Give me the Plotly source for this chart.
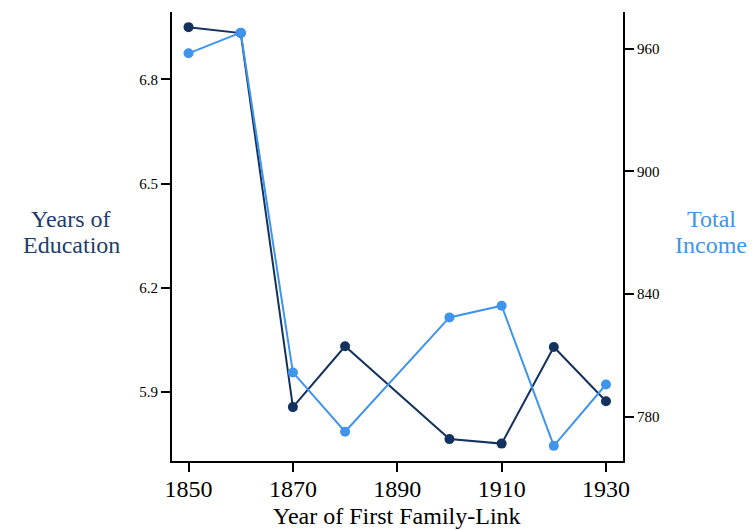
import plotly.graph_objects as go

years = [1850, 1860, 1870, 1880, 1900, 1910, 1920, 1930]
education = [6.950, 6.933, 5.857, 6.032, 5.765, 5.752, 6.030, 5.874]
income = [957.7, 967.8, 801.7, 772.7, 828.6, 834.3, 765.8, 795.8]
x_ticks = [1850, 1870, 1890, 1910, 1930]
edu_ticks = [5.9, 6.2, 6.5, 6.8]
inc_ticks = [780, 840, 900, 960]

dark = "#14325e"
light = "#3f94ec"
font_family = "Liberation Serif"

# page body adds an 8px margin, so the figure is drawn 8px smaller
W, H = 747, 522
L, R, T, B = 164, 132, 4, 69

fig = go.Figure()
fig.add_trace(go.Scatter(x=years, y=education, mode="lines+markers",
                         line=dict(color=dark, width=2),
                         marker=dict(color=dark, size=10),
                         yaxis="y"))
fig.add_trace(go.Scatter(x=years, y=income, mode="lines+markers",
                         line=dict(color=light, width=2),
                         marker=dict(color=light, size=10),
                         yaxis="y2"))

axis_common = dict(showline=True, linecolor="black", linewidth=2,
                   ticks="outside", ticklen=9, tickwidth=2, tickcolor="black",
                   showgrid=False, zeroline=False)

def px(x, y):
    return (x - L) / (W - L - R), (H - B - y) / (H - T - B)

labels = [("Years of", 63, 211, "#1f3d6b", 24), ("Education", 63, 237, "#1f3d6b", 24),
          ("Total", 703, 211, light, 24), ("Income", 703, 237, light, 24),
          ("Year of First Family-Link", 389, 508, "black", 24)]
annotations = []
for text, x, y, col, size in labels:
    ax, ay = px(x, y)
    annotations.append(dict(text=text, x=ax, y=ay, xref="paper", yref="paper",
                            xanchor="center", yanchor="middle", showarrow=False,
                            font=dict(family=font_family, size=size, color=col)))

fig.update_layout(
    width=W, height=H,
    margin=dict(l=L, r=R, t=T, b=B),
    plot_bgcolor="white", paper_bgcolor="white",
    showlegend=False,
    font=dict(family=font_family, color="black"),
    xaxis=dict(range=[1846.83, 1933.26], tickvals=x_ticks,
               tickfont=dict(family=font_family, size=24), ticklabelstandoff=-4,
               **axis_common),
    yaxis=dict(range=[5.702, 6.9936], tickvals=edu_ticks,
               tickformat=".1f", tickfont=dict(family=font_family, size=15), **axis_common),
    yaxis2=dict(range=[758.4, 977.9], tickvals=inc_ticks, overlaying="y",
                side="right", tickfont=dict(family=font_family, size=15), **axis_common),
    annotations=annotations,
)

fig.write_html("out.html")
